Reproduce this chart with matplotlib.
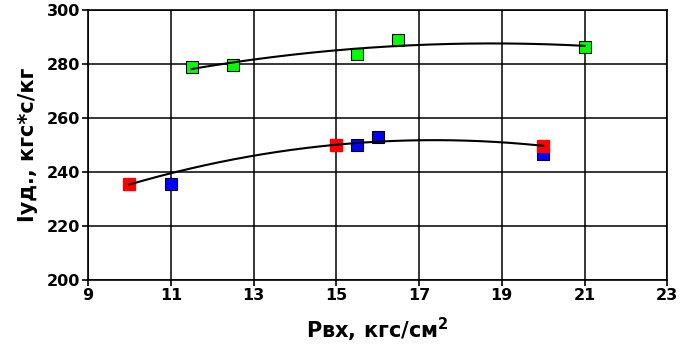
import matplotlib.pyplot as plt
import numpy as np

# data
red_x = [10, 15, 20]
red_y = [235.3, 250.0, 249.6]
blue_x = [11, 15.5, 16, 20]
blue_y = [235.3, 249.9, 253.0, 246.4]
green_x = [11.5, 12.5, 15.5, 16.5, 21]
green_y = [278.9, 279.5, 283.6, 288.8, 286.3]

x_ticks = [9, 11, 13, 15, 17, 19, 21, 23]
y_ticks = [200, 220, 240, 260, 280, 300]

plt.rcParams["font.family"] = "DejaVu Sans"
plt.rcParams["font.weight"] = "bold"

fig = plt.figure(figsize=(6.83, 3.53), dpi=100)
ax = fig.add_axes([0.129, 0.207, 0.848, 0.766])

# quadratic trend lines (Excel style)
for xs, ys in [(red_x, red_y), (green_x, green_y)]:
    c = np.polyfit(xs, ys, 2)
    xx = np.linspace(min(xs), max(xs), 200)
    ax.plot(xx, np.polyval(c, xx), color='black', lw=1.5, zorder=6)

ax.plot(blue_x, blue_y, 's', color='#0000ff', mec='black', mew=0.8, ms=8.3, zorder=4)
ax.plot(red_x, red_y, 's', color='#ff0000', mec='#ff0000', ms=8.3, zorder=5)
ax.plot(green_x, green_y, 's', color='#00ff00', mec='black', mew=0.8, ms=8.3, zorder=4)

ax.set_xlim(9, 23)
ax.set_ylim(200, 300)
ax.set_xticks(x_ticks)
ax.set_yticks(y_ticks)
ax.grid(True, color='black', lw=1.1)
ax.set_axisbelow(True)
for s in ax.spines.values():
    s.set_linewidth(1.2)
ax.tick_params(axis='both', direction='out', length=4, width=1.2, labelsize=11.5, pad=2)

ax.set_xlabel('Рвх, кгс/см$^\\mathbf{2}$', fontsize=15, fontweight='bold', labelpad=9)
ax.set_ylabel('Iуд., кгс*с/кг', fontsize=15, fontweight='bold', labelpad=6)

fig.savefig('out.png', dpi=100)
